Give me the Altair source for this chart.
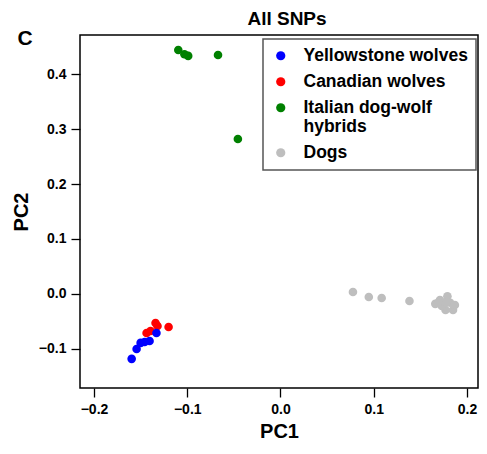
import altair as alt
import pandas as pd

groups = ["Yellowstone wolves", "Canadian wolves", "Italian dog-wolf\nhybrids", "Dogs"]
colors = ["#0000FF", "#FF0000", "#008000", "#BEBEBE"]

canadian_pc1 = [-0.1436, -0.1394, -0.134, -0.1319, -0.120]
canadian_pc2 = [-0.0709, -0.0673, -0.0527, -0.0582, -0.060]

yellowstone_pc1 = [-0.1596, -0.1543, -0.150, -0.1457, -0.1404, -0.133]
yellowstone_pc2 = [-0.118, -0.100, -0.089, -0.0873, -0.0855, -0.0709]

italian_pc1 = [-0.1096, -0.103, -0.099, -0.067, -0.0457]
italian_pc2 = [0.4436, 0.436, 0.433, 0.4345, 0.2818]

dogs_pc1 = [0.0777, 0.0947, 0.1085, 0.1383, 0.166, 0.171, 0.179, 0.182, 0.185,
            0.177, 0.173, 0.187, 0.178, 0.169]
dogs_pc2 = [0.0036, -0.0055, -0.0073, -0.0127, -0.018, -0.011, -0.004, -0.016,
            -0.029, -0.029, -0.022, -0.020, -0.015, -0.016]

rows = []
for g, xs, ys in [(groups[3], dogs_pc1, dogs_pc2),
                  (groups[2], italian_pc1, italian_pc2),
                  (groups[1], canadian_pc1, canadian_pc2),
                  (groups[0], yellowstone_pc1, yellowstone_pc2)]:
    for x, y in zip(xs, ys):
        rows.append({"group": g, "PC1": x, "PC2": y})
df = pd.DataFrame(rows)

FONT = "Liberation Sans"

points = alt.Chart(df).mark_circle(size=74, opacity=1).encode(
    x=alt.X("PC1:Q", title="PC1",
            scale=alt.Scale(domain=[-0.215, 0.2118], nice=False, zero=False),
            axis=alt.Axis(values=[-0.2, -0.1, 0.0, 0.1, 0.2], format=".1f",
                          grid=False, domain=False, tickSize=9, tickWidth=1.3,
                          tickColor="black", labelFontSize=14, labelFontWeight="bold",
                          labelPadding=5, titleFontSize=20, titleFontWeight="bold",
                          titlePadding=5, labelColor="black", titleColor="black",
                          labelFont=FONT, titleFont=FONT)),
    y=alt.Y("PC2:Q", title="PC2",
            scale=alt.Scale(domain=[-0.171, 0.471], nice=False, zero=False),
            axis=alt.Axis(values=[-0.1, 0.0, 0.1, 0.2, 0.3, 0.4], format=".1f",
                          grid=False, domain=False, tickSize=9, tickWidth=1.3,
                          tickColor="black", labelFontSize=14, labelFontWeight="bold",
                          labelPadding=5, titleFontSize=20, titleFontWeight="bold",
                          titlePadding=7, labelColor="black", titleColor="black",
                          labelFont=FONT, titleFont=FONT)),
    color=alt.Color("group:N",
                    scale=alt.Scale(domain=groups, range=colors),
                    legend=alt.Legend(title=None, orient="none", legendX=183, legendY=4,
                                      labelExpr="split(datum.label, '\\n')",
                                      labelFontSize=17.5, labelFontWeight="bold",
                                      labelFont=FONT, labelColor="black",
                                      labelLimit=300,
                                      symbolType="circle", symbolSize=85,
                                      symbolStrokeWidth=0, symbolOpacity=1,
                                      symbolOffset=1, labelOffset=14,
                                      fillColor="white")),
    order=alt.value(0),
)

panel = alt.Chart(pd.DataFrame({"t": ["C"]})).mark_text(
    font=FONT, fontSize=21, fontWeight="bold", color="black",
    align="center", baseline="middle"
).encode(text="t:N", x=alt.value(-55), y=alt.value(4))

chart = alt.layer(points, panel).properties(
    width=398, height=353,
    title=alt.TitleParams("All SNPs", fontSize=19, fontWeight="bold", font=FONT,
                          anchor="middle", offset=3, dx=8, dy=4, color="black"),
    autosize=alt.AutoSizeParams(type="none"),
    padding={"left": 72, "top": 27, "right": 1, "bottom": 52},
).configure_view(stroke="black", strokeWidth=1.5).configure_legend(
    strokeColor="#555555", strokeWidth=1.5, padding=8, rowPadding=7
)

chart.save("out.html", embed_options={"renderer": "svg", "actions": False})
